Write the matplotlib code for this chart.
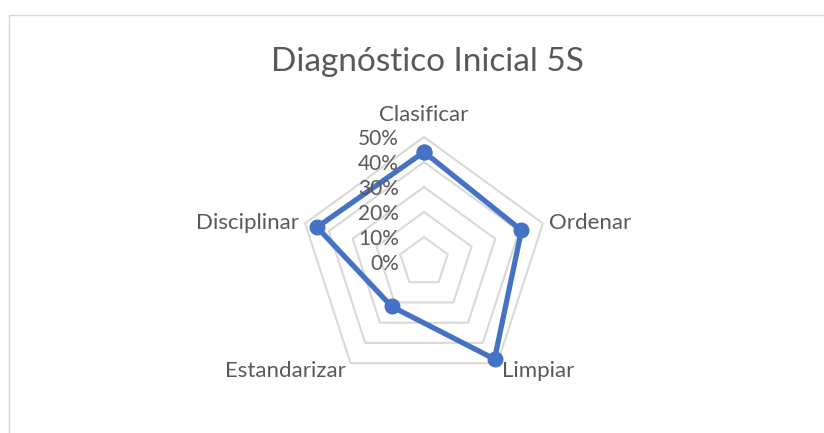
import numpy as np
import matplotlib
matplotlib.use('Agg')
import matplotlib.pyplot as plt
from matplotlib.transforms import ScaledTranslation
from matplotlib.patches import Rectangle

plt.rcParams['font.family'] = ['Lato', 'DejaVu Sans']

# Data
categories = ['Clasificar', 'Ordenar', 'Limpiar', 'Estandarizar', 'Disciplinar']
values = [0.44, 0.41, 0.48, 0.22, 0.45]
ring_levels = [0.1, 0.2, 0.3, 0.4, 0.5]
tick_labels = ['0%', '10%', '20%', '30%', '40%', '50%']
tick_values = [0.0, 0.1, 0.2, 0.3, 0.4, 0.5]

W, H = 824, 433
fig = plt.figure(figsize=(W / 100, H / 100), dpi=100)

# chart border (cropped on right/bottom like the reference)
fig.patches.append(Rectangle((9 / W, -0.05), 1.0, (H - 15) / H + 0.05,
                             transform=fig.transFigure, fill=False,
                             edgecolor='#D9D9D9', linewidth=1.0))

cx, cy, R = 424, 262, 125
ax = fig.add_axes([(cx - R) / W, (H - cy - R) / H, 2 * R / W, 2 * R / H],
                  projection='polar')
ax.set_theta_offset(np.pi / 2)
ax.set_theta_direction(-1)
ax.set_ylim(0, 0.5)
ax.set_xticks([])
ax.set_yticks([])
ax.grid(False)
ax.spines['polar'].set_visible(False)
ax.patch.set_alpha(0)

n = len(categories)
angles = np.linspace(0, 2 * np.pi, n, endpoint=False)
closed = np.concatenate([angles, angles[:1]])

# pentagon grid rings
for lv in ring_levels:
    ax.plot(closed, [lv] * (n + 1), color='#D9D9D9', linewidth=1.5,
            zorder=1, clip_on=False)

# series
vals = values + values[:1]
ax.plot(closed, vals, color='#4472C4', linewidth=3.8, marker='o',
        markersize=10.5, zorder=3, clip_on=False)

# radial tick labels
off = ax.transData + ScaledTranslation(-25 / 100, -2 / 100, fig.dpi_scale_trans)
for tv, tl in zip(tick_values, tick_labels):
    ax.text(0, tv, tl, transform=off, ha='right', va='center',
            fontsize=15, color='#595959')

# category labels
label_offsets = [(0, 22, 'center'), (6, 0, 'left'), (5, -8, 'left'),
                 (-5, -8, 'right'), (-6, 0, 'right')]
for a, lab, (dx, dy, ha) in zip(angles, categories, label_offsets):
    tr = ax.transData + ScaledTranslation(dx / 100, dy / 100, fig.dpi_scale_trans)
    ax.text(a, 0.5, lab, transform=tr, ha=ha, va='center',
            fontsize=16, color='#595959')

fig.text(427 / W, 1 - 62 / H, 'Diagnóstico Inicial 5S', ha='center',
         va='center', fontsize=24, color='#595959')

fig.savefig('out.png', dpi=100)
